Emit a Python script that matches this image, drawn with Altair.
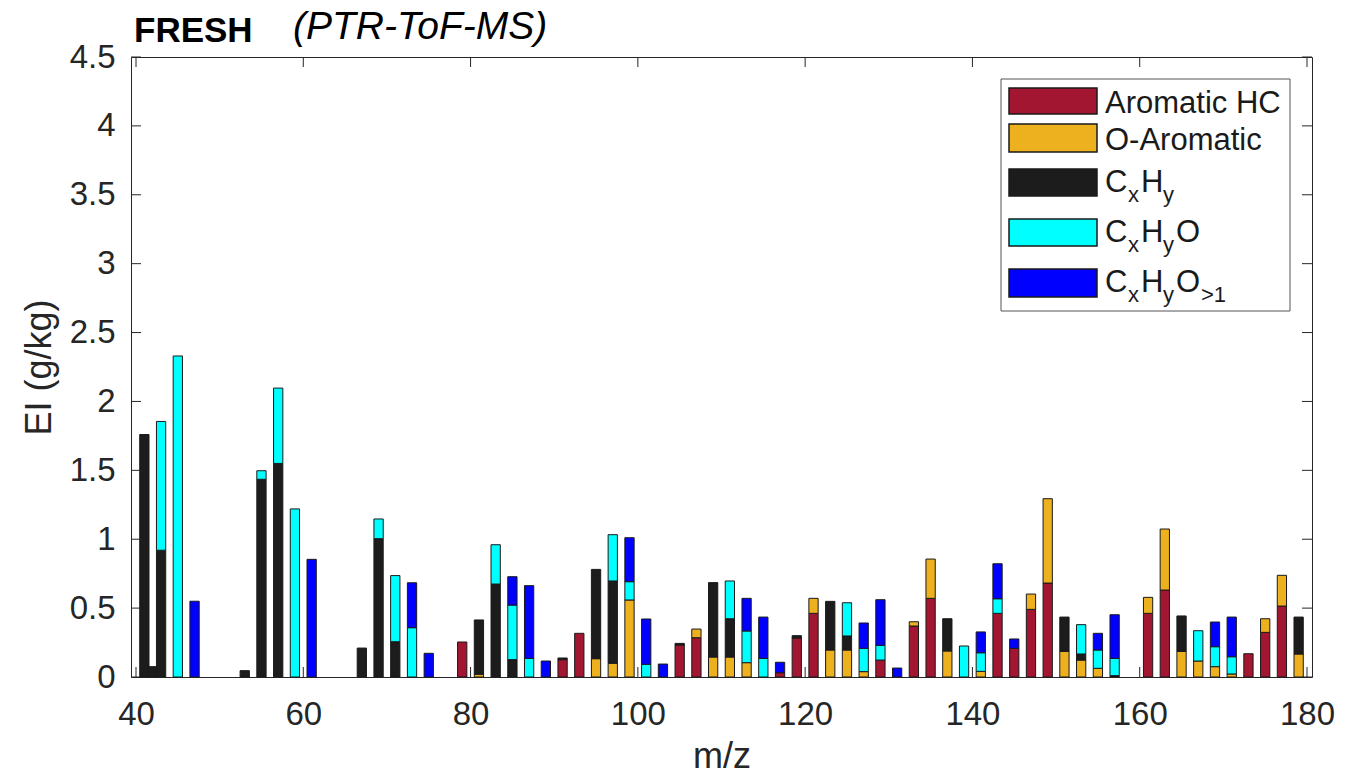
import altair as alt
import pandas as pd

# ---------------- data ----------------
categories = ["Aromatic HC", "O-Aromatic", "CxHy", "CxHyO", "CxHyO>1"]
colors = ["#A31631", "#EDB120", "#1C1C1C", "#00FFFF", "#0000FF"]

arom_mz = [79, 91, 93, 105, 107, 117, 119, 121, 129, 133, 135, 143, 145, 147, 149,
           161, 163, 173, 175, 177]
arom_val = [0.254, 0.126, 0.317, 0.232, 0.285, 0.031, 0.283, 0.462, 0.123, 0.370,
            0.571, 0.462, 0.208, 0.491, 0.682, 0.462, 0.631, 0.169, 0.324, 0.515]

oarom_mz = [81, 95, 97, 99, 107, 109, 111, 113, 121, 123, 125, 127, 133, 135, 137,
            141, 147, 149, 151, 153, 155, 161, 163, 165, 167, 169, 171, 175, 177, 179]
oarom_val = [0.02, 0.133, 0.10, 0.559, 0.063, 0.145, 0.145, 0.104, 0.109, 0.196,
             0.196, 0.039, 0.031, 0.285, 0.189, 0.041, 0.111, 0.612, 0.186, 0.123,
             0.063, 0.116, 0.443, 0.186, 0.116, 0.075, 0.022, 0.099, 0.223, 0.167]

cxhy_mz = [41, 42, 43, 53, 55, 57, 67, 69, 71, 81, 83, 85, 91, 95, 97, 105, 109,
           111, 119, 123, 125, 137, 151, 153, 157, 165, 179]
cxhy_val = [1.76, 0.075, 0.92, 0.046, 1.435, 1.55, 0.21, 1.004, 0.256, 0.394,
            0.675, 0.126, 0.012, 0.648, 0.597, 0.012, 0.54, 0.278, 0.017, 0.353,
            0.102, 0.234, 0.249, 0.044, 0.01, 0.257, 0.268]

cxhyo_mz = [43, 45, 55, 57, 59, 69, 71, 73, 83, 85, 87, 97, 99, 101, 111, 113, 115,
            125, 127, 129, 139, 141, 143, 153, 155, 157, 167, 169, 171]
cxhyo_val = [0.935, 2.33, 0.062, 0.547, 1.22, 0.143, 0.48, 0.358, 0.285, 0.396,
             0.135, 0.336, 0.133, 0.092, 0.274, 0.23, 0.135, 0.241, 0.169, 0.107,
             0.225, 0.135, 0.106, 0.213, 0.133, 0.125, 0.22, 0.145, 0.125]

cxhyo2_mz = [47, 61, 73, 75, 85, 87, 89, 99, 101, 103, 113, 115, 117, 127, 129, 131,
             141, 143, 145, 155, 157, 169, 171]
cxhyo2_val = [0.55, 0.854, 0.326, 0.172, 0.206, 0.528, 0.116, 0.319, 0.329, 0.094,
              0.237, 0.30, 0.076, 0.184, 0.331, 0.065, 0.151, 0.254, 0.068, 0.121,
              0.317, 0.179, 0.288]

x_ticks = [40, 60, 80, 100, 120, 140, 160, 180]
y_ticks = [0, 0.5, 1, 1.5, 2, 2.5, 3, 3.5, 4, 4.5]

# ---------------- table ----------------
rows = []
for order, (cat, mzs, vals) in enumerate([
    (categories[0], arom_mz, arom_val),
    (categories[1], oarom_mz, oarom_val),
    (categories[2], cxhy_mz, cxhy_val),
    (categories[3], cxhyo_mz, cxhyo_val),
    (categories[4], cxhyo2_mz, cxhyo2_val),
]):
    for m, v in zip(mzs, vals):
        rows.append({"mz": m, "cat": cat, "ord": order, "value": v})
df = pd.DataFrame(rows)

# ---------------- layout ----------------
W, H = 1181, 620
FONT = "Liberation Sans"
AX = "#262626"
bar_px = 1.1 * W / 140.0

xscale = alt.Scale(domain=[40, 180], nice=False, zero=False)
yscale = alt.Scale(domain=[0, 4.5], nice=False, zero=True)

xaxis = alt.Axis(values=x_ticks, title="m/z", grid=False, ticks=False,
                 tickSize=0, domain=False, labelFontSize=33,
                 labelFont=FONT, labelColor=AX, labelPadding=47,
                 labelBaseline="alphabetic", labelFlush=False,
                 titleFont=FONT, titleFontSize=36, titleFontWeight="normal",
                 titleColor=AX, titleBaseline="alphabetic",
                 titleX=W / 2, titleY=90)
yaxis = alt.Axis(values=y_ticks, format="~g", title="EI (g/kg)", grid=False,
                 ticks=False, tickSize=0, domain=False, labelFontSize=33,
                 labelFont=FONT, labelColor=AX, labelPadding=16,
                 labelFlush=False,
                 titleFont=FONT, titleFontSize=36, titleFontWeight="normal",
                 titleColor=AX, titleBaseline="alphabetic",
                 titleX=-81, titleY=H / 2, titleAngle=270)

bars = alt.Chart(df).mark_bar(
    width=bar_px, stroke="#1a1a1a", strokeWidth=1
).encode(
    x=alt.X("mz:Q", scale=xscale, axis=xaxis, title="m/z"),
    y=alt.Y("value:Q", stack="zero", scale=yscale, axis=yaxis, title="EI (g/kg)"),
    color=alt.Color("cat:N", scale=alt.Scale(domain=categories, range=colors),
                    legend=None),
    order=alt.Order("ord:Q", sort="ascending"),
)

# inner ticks (MATLAB style)
ytick_data = alt.Data(values=[{"v": v} for v in y_ticks])
xtick_data = alt.Data(values=[{"v": v} for v in x_ticks])
tl = 10
ytick_l = alt.Chart(ytick_data).mark_rule(color=AX, strokeWidth=1).encode(
    y=alt.Y("v:Q", scale=yscale, axis=yaxis, title="EI (g/kg)"),
    x=alt.value(0), x2=alt.value(tl))
ytick_r = alt.Chart(ytick_data).mark_rule(color=AX, strokeWidth=1).encode(
    y=alt.Y("v:Q", scale=yscale, axis=yaxis, title="EI (g/kg)"),
    x=alt.value(W - tl), x2=alt.value(W))
xtick_b = alt.Chart(xtick_data).mark_rule(color=AX, strokeWidth=1).encode(
    x=alt.X("v:Q", scale=xscale, axis=xaxis, title="m/z"),
    y=alt.value(H - tl), y2=alt.value(H))
xtick_t = alt.Chart(xtick_data).mark_rule(color=AX, strokeWidth=1).encode(
    x=alt.X("v:Q", scale=xscale, axis=xaxis, title="m/z"),
    y=alt.value(0), y2=alt.value(tl))

one = alt.Data(values=[{}])


def txt(s, x, y, size, weight="normal", style="normal", color="#000000"):
    return alt.Chart(one).mark_text(
        text=s, font=FONT, fontSize=size, fontWeight=weight, fontStyle=style,
        align="left", baseline="alphabetic", color=color
    ).encode(x=alt.value(x), y=alt.value(y))


# title
title_a = txt("FRESH", 3, -15, 35, weight="bold")
title_b = txt("(PTR-ToF-MS)", 162, -18, 39, style="italic")

# legend
lg_box = alt.Chart(one).mark_rect(fill="white", stroke="#555555", strokeWidth=1).encode(
    x=alt.value(870), x2=alt.value(1159), y=alt.value(22), y2=alt.value(254))
swatch_rows = [(31, 57), (67, 95), (112, 139), (162, 189), (212, 240)]
legend_layers = [lg_box]
for (y0, y1), col in zip(swatch_rows, colors):
    legend_layers.append(
        alt.Chart(one).mark_rect(fill=col, stroke="#1a1a1a", strokeWidth=1.5).encode(
            x=alt.value(878), x2=alt.value(966), y=alt.value(y0), y2=alt.value(y1)))

LF, SF = 31, 22
tx = 974
base = [56, 93, 135, 185, 235]
legend_layers += [
    txt("Aromatic HC", tx, base[0], LF, color="#1a1a1a"),
    txt("O-Aromatic", tx, base[1], LF, color="#1a1a1a"),
]
for i, extra in [(2, ""), (3, "O"), (4, "O")]:
    b = base[i]
    legend_layers += [
        txt("C", tx, b, LF, color="#1a1a1a"),
        txt("x", 997, b + 10, SF, color="#1a1a1a"),
        txt("H", 1010, b, LF, color="#1a1a1a"),
        txt("y", 1032, b + 10, SF, color="#1a1a1a"),
    ]
    if extra:
        legend_layers.append(txt("O", 1045, b, LF, color="#1a1a1a"))
    if i == 4:
        legend_layers.append(txt(">1", 1070, b + 10, SF, color="#1a1a1a"))

chart = alt.layer(
    bars, ytick_l, ytick_r, xtick_b, xtick_t, title_a, title_b, *legend_layers
).properties(
    width=W, height=H,
    autosize=alt.AutoSizeParams(type="none"),
    padding={"left": 131, "top": 57, "right": 54, "bottom": 99},
    background="white",
).configure_view(
    stroke=AX, strokeWidth=1
)

chart.save("out.html", embed_options={"renderer": "svg", "actions": False})
